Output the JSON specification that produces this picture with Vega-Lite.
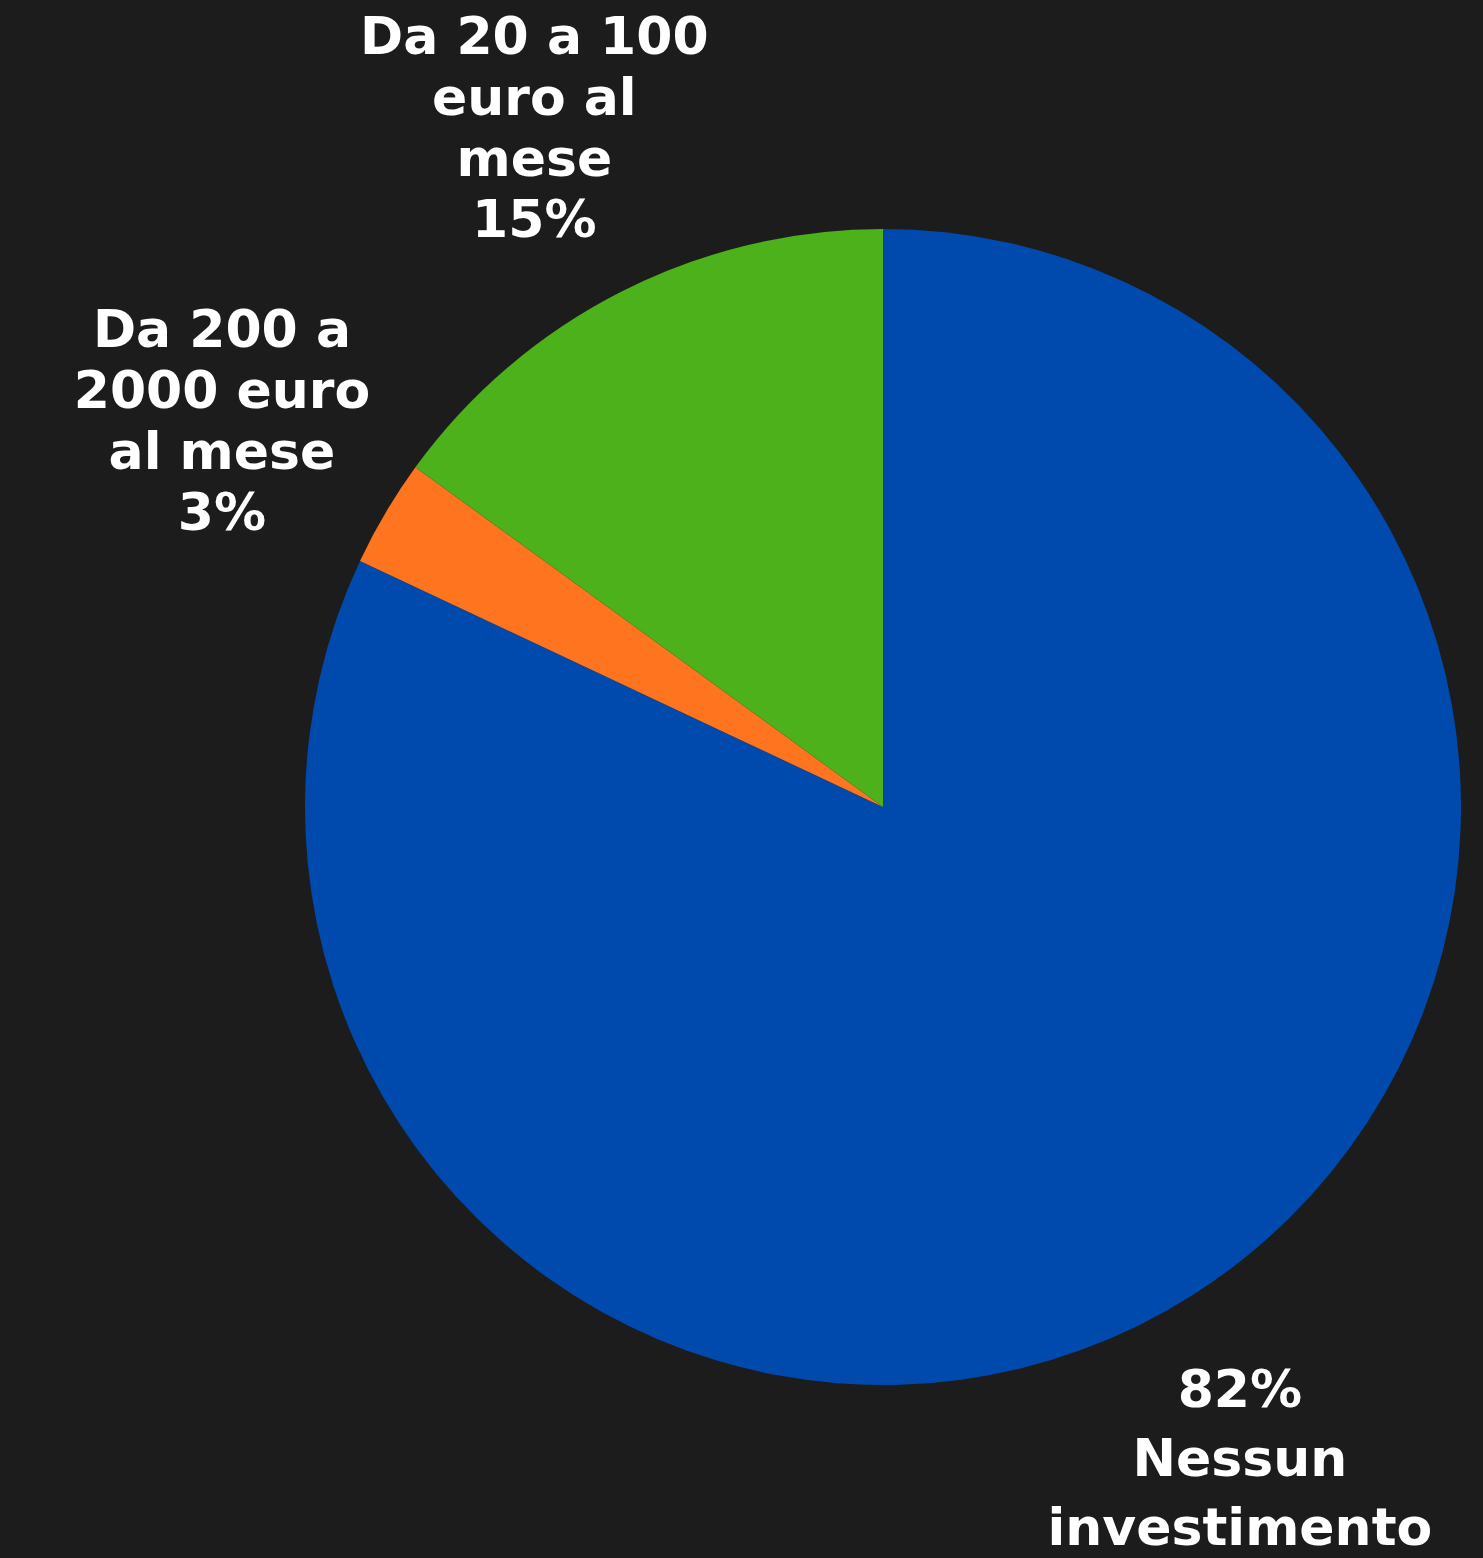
{
  "$schema": "https://vega.github.io/schema/vega-lite/v6.json",
  "background": "#1c1c1c",
  "autosize": {"type": "none"},
  "width": 1156,
  "height": 1156,
  "padding": {"left": 305, "top": 229, "right": 22, "bottom": 173},
  "data": {
    "values": [
      {"ordine": 1, "categoria": "Nessun investimento", "valore": 82, "etichetta": "82%\nNessun\ninvestimento"},
      {"ordine": 2, "categoria": "Da 200 a 2000 euro al mese", "valore": 3, "etichetta": "Da 200 a\n2000 euro\nal mese\n3%"},
      {"ordine": 3, "categoria": "Da 20 a 100 euro al mese", "valore": 15, "etichetta": "Da 20 a 100\neuro al\nmese\n15%"}
    ]
  },
  "encoding": {
    "theta": {"field": "valore", "type": "quantitative", "stack": true},
    "order": {"field": "ordine", "type": "quantitative"}
  },
  "layer": [
    {
      "mark": {"type": "arc", "outerRadius": 578},
      "encoding": {
        "color": {
          "field": "categoria",
          "type": "nominal",
          "scale": {
            "domain": ["Nessun investimento", "Da 200 a 2000 euro al mese", "Da 20 a 100 euro al mese"],
            "range": ["#004aad", "#ff751f", "#4cb11a"]
          },
          "legend": null
        }
      }
    },
    {
      "mark": {
        "type": "text",
        "radius": 768,
        "dy": -85,
        "lineBreak": "\n",
        "lineHeight": 61,
        "font": "DejaVu Sans",
        "fontWeight": "bold",
        "fontSize": 52,
        "fill": "#ffffff",
        "align": "center",
        "baseline": "middle"
      },
      "encoding": {
        "text": {"condition": {"test": "datum.ordine == 1", "value": ""}, "field": "etichetta", "type": "nominal"}
      }
    },
    {
      "mark": {
        "type": "text",
        "radius": 666,
        "dy": 22,
        "lineBreak": "\n",
        "lineHeight": 69,
        "font": "DejaVu Sans",
        "fontWeight": "bold",
        "fontSize": 52,
        "fill": "#ffffff",
        "align": "center",
        "baseline": "middle"
      },
      "encoding": {
        "text": {"condition": {"test": "datum.ordine != 1", "value": ""}, "field": "etichetta", "type": "nominal"}
      }
    }
  ],
  "view": {"stroke": null}
}
